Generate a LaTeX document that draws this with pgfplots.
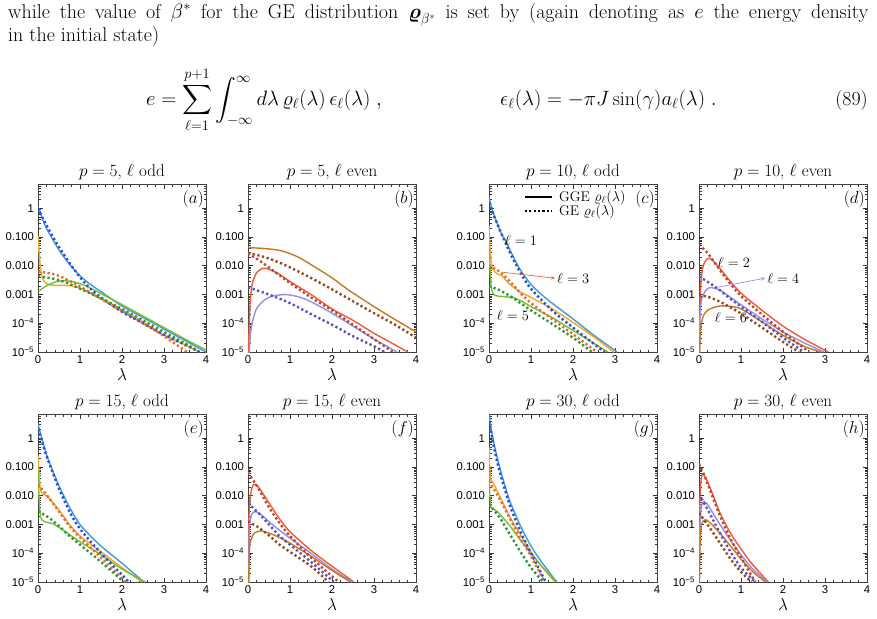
\documentclass[border=0pt]{standalone}
\usepackage{amsmath}
\usepackage{fontspec}
\usepackage{pgfplots}
\pgfplotsset{compat=1.18}

\newfontfamily\arial{Liberation Sans}
\newcommand\tickfont{\arial\fontsize{11.3}{12}\selectfont}
\newcommand\titlefont{\fontsize{17}{19}\selectfont}
\newcommand\tagfont{\fontsize{16}{18}\selectfont}
\newcommand\bodyfont{\fontsize{20}{23.3}\selectfont}

\definecolor{cBlue}{RGB}{62,155,213}
\definecolor{cBlueD}{RGB}{40,75,220}
\definecolor{cOrange}{RGB}{245,165,35}
\definecolor{cOrangeD}{RGB}{232,105,45}
\definecolor{cGreen}{RGB}{120,190,50}
\definecolor{cGreenD}{RGB}{45,150,55}
\definecolor{cBrown}{RGB}{200,120,30}
\definecolor{cBrownD}{RGB}{150,70,30}
\definecolor{cRed}{RGB}{240,90,50}
\definecolor{cRedD}{RGB}{190,65,50}
\definecolor{cPurple}{RGB}{150,140,230}
\definecolor{cPurpleD}{RGB}{85,80,200}

\tikzset{
  gge/.style={line width=1.4pt, smooth, tension=0.45},
  ge/.style={line width=2.4pt, dash pattern=on 2.2pt off 2.6pt, smooth, tension=0.45},
  ann/.style={font=\fontsize{15}{17}\selectfont, inner sep=0pt},
}

\pgfplotsset{
  chartpanel/.style={
    scale only axis, width=168pt, height=168pt,
    xmin=0, xmax=4, ymin=1e-5, ymax=7,
    xtick={0,1,2,3,4}, xticklabels={0,1,2,3,4},
    minor x tick num=4,
    ytick={1e-5,1e-4,1e-3,1e-2,1e-1,1},
    yticklabels={10\textsuperscript{−5},10\textsuperscript{−4},0.001,0.010,0.100,1},
    minor ytick={2e-5,3e-5,4e-5,5e-5,6e-5,7e-5,8e-5,9e-5,
                 2e-4,3e-4,4e-4,5e-4,6e-4,7e-4,8e-4,9e-4,
                 2e-3,3e-3,4e-3,5e-3,6e-3,7e-3,8e-3,9e-3,
                 2e-2,3e-2,4e-2,5e-2,6e-2,7e-2,8e-2,9e-2,
                 0.2,0.3,0.4,0.5,0.6,0.7,0.8,0.9,2,3,4,5,6,7},
    tick align=inside,
    major tick length=4.5pt, minor tick length=2.5pt,
    every tick/.style={black!80, line width=0.6pt},
    axis line style={black!75, line width=0.9pt},
    tick label style={font=\tickfont},
    yticklabel style={xshift=-0.5pt},
    xlabel={$\lambda$},
    xlabel style={font=\fontsize{16.5}{18}\selectfont, at={(axis description cs:0.5,0)}, anchor=base, yshift=-28pt},
    title style={font=\titlefont, yshift=-5pt},
  },
  paneltag/.style={
    after end axis/.append code={
      \node[anchor=north east, font=\tagfont, inner sep=0pt, xshift=-2pt, yshift=-6pt]
        at (rel axis cs:1,1) {$(#1)$};}
  },
}

\begin{document}
\begin{tikzpicture}[x=1pt,y=1pt]
\path[use as bounding box] (0,0) rectangle (877,-618);

% running text and equation (89)
\node[anchor=base west, inner sep=0pt] at (8,-18.5) {\parbox[t]{860pt}{\bodyfont
  while the value of $\beta^*$ for the GE distribution $\boldsymbol{\varrho}_{\beta^*}$ is set by (again denoting as $e$ the energy density\linebreak
  in the initial state)}};
\node[anchor=base west, inner sep=0pt] at (146,-105.5) {\bodyfont
  $\displaystyle e=\sum_{\ell=1}^{p+1}\int_{-\infty}^{\infty}d\lambda\,\varrho_\ell(\lambda)\,\epsilon_\ell(\lambda)\;,$};
\node[anchor=base west, inner sep=0pt] at (500,-105.5) {\bodyfont
  $\displaystyle \epsilon_\ell(\lambda)=-\pi J\sin(\gamma)a_\ell(\lambda)\;.$};
\node[anchor=base east, inner sep=0pt] at (868,-105.5) {\bodyfont (89)};

% ---------------- p = 5, odd ----------------
\begin{semilogyaxis}[chartpanel, paneltag=a, at={(38pt,-352pt)}, anchor=south west, title={$p=5$, $\ell$ odd}]
\addplot[gge, cBlue] coordinates {(0,1.122)(0.1,0.4467)(0.2,0.1995)(0.3,0.1122)(0.5,0.03548)(0.75,0.01122)(1,4.467e-3)(1.25,2.239e-3)(1.5,1.259e-3)(2,3.981e-4)(2.5,1.585e-4)(3,6.310e-5)(3.5,2.512e-5)(4,1e-5)};
\addplot[gge, cOrange] coordinates {(0,0.1122)(0.03,0.02512)(0.06,7.943e-3)(0.1,3.981e-3)(0.15,2.818e-3)(0.25,2.239e-3)(0.4,2.089e-3)(0.6,2.089e-3)(0.8,1.995e-3)(1,1.660e-3)(1.25,1.122e-3)(1.5,7.079e-4)(2,2.512e-4)(2.5,1e-4)(3,3.981e-5)(3.5,1.778e-5)(3.85,1e-5)};
\addplot[gge, cGreen] coordinates {(0,1.259e-3)(0.2,1.995e-3)(0.4,2.692e-3)(0.6,3.020e-3)(0.8,2.818e-3)(1,2.399e-3)(1.25,1.660e-3)(1.5,1.072e-3)(2,4.467e-4)(2.5,1.778e-4)(3,7.079e-5)(3.5,2.818e-5)(4,1.175e-5)};
\addplot[ge, cBlueD] coordinates {(0,1)(0.15,0.3548)(0.3,0.1413)(0.5,0.04467)(0.75,0.01259)(1,3.981e-3)(1.25,1.585e-3)(1.5,7.943e-4)(2,2.512e-4)(2.5,1e-4)(3,3.981e-5)(3.5,1.778e-5)(3.85,1e-5)};
\addplot[ge, cOrangeD] coordinates {(0,6.310e-3)(0.25,5.623e-3)(0.5,4.467e-3)(0.75,3.020e-3)(1,1.905e-3)(1.5,7.079e-4)(2,2.818e-4)(2.5,1.047e-4)(3,3.548e-5)(3.55,1e-5)};
\addplot[ge, cGreenD] coordinates {(0,4.365e-3)(0.4,3.467e-3)(0.7,2.512e-3)(1,1.585e-3)(1.5,7.413e-4)(2,3.162e-4)(2.5,1.259e-4)(3,5.012e-5)(3.5,1.995e-5)(3.8,1.122e-5)};
\end{semilogyaxis}

% ---------------- p = 5, even ----------------
\begin{semilogyaxis}[chartpanel, paneltag=b, at={(248pt,-352pt)}, anchor=south west, title={$p=5$, $\ell$ even}]
\addplot[gge, cBrown] coordinates {(0,4.266e-2)(0.4,3.981e-2)(0.8,3.311e-2)(1.2,1.995e-2)(1.6,8.913e-3)(2,3.802e-3)(2.4,1.413e-3)(3,3.802e-4)(3.5,1.349e-4)(4,5.012e-5)};
\addplot[gge, cRed] coordinates {(0.002,1e-6)(0.02,3.162e-5)(0.05,5.012e-4)(0.1,2.239e-3)(0.2,5.623e-3)(0.35,8.128e-3)(0.5,7.586e-3)(0.75,5.012e-3)(1,2.818e-3)(1.5,1e-3)(2,3.162e-4)(2.5,1.259e-4)(3,4.467e-5)(3.5,1.778e-5)(3.8,1e-5)};
\addplot[gge, cPurple] coordinates {(0.003,1e-6)(0.05,3.162e-5)(0.1,1e-4)(0.2,3.162e-4)(0.4,6.607e-4)(0.6,8.913e-4)(0.9,1e-3)(1.2,8.318e-4)(1.5,5.623e-4)(2,2.239e-4)(2.5,7.943e-5)(3,2.818e-5)(3.55,1e-5)};
\addplot[ge, cBrownD] coordinates {(0,2.818e-2)(0.4,1.995e-2)(0.8,1.202e-2)(1.2,6.310e-3)(1.6,3.162e-3)(2,1.514e-3)(2.4,7.079e-4)(3,2.239e-4)(3.5,8.913e-5)(4,3.162e-5)};
\addplot[ge, cRedD] coordinates {(0,2.692e-2)(0.2,1.778e-2)(0.4,1.122e-2)(0.6,6.761e-3)(0.8,4.169e-3)(1,2.512e-3)(1.5,7.943e-4)(2,2.818e-4)(2.5,8.913e-5)(3,2.818e-5)(3.45,1e-5)};
\addplot[ge, cPurpleD] coordinates {(0,1.778e-3)(0.5,1e-3)(1,5.012e-4)(1.5,2.089e-4)(2,8.913e-5)(2.5,3.548e-5)(3,1.585e-5)(3.25,1e-5)};
\end{semilogyaxis}

% ---------------- p = 10, odd ----------------
\begin{semilogyaxis}[chartpanel, paneltag=c, at={(489pt,-352pt)}, anchor=south west, title={$p=10$, $\ell$ odd},
  legend style={at={(rel axis cs:0.205,0.881)}, anchor=west, draw=none, fill=none,
    font=\fontsize{14}{15}\selectfont, row sep=0pt, column sep=5pt, inner sep=0pt,
    nodes={inner sep=1pt}},
  legend cell align=left,
  legend image code/.code={\draw[#1] (0pt,0pt) -- (27pt,0pt);}]
\addlegendimage{black, line width=1.8pt}
\addlegendentry{GGE $\varrho_\ell(\lambda)$}
\addlegendimage{black, line width=2.4pt, dash pattern=on 2.2pt off 2.2pt}
\addlegendentry{GE $\varrho_\ell(\lambda)$}
\addplot[gge, cBlue] coordinates {(0,2.399)(0.05,1.259)(0.1,0.7079)(0.2,0.2818)(0.3,0.1259)(0.4,0.07079)(0.5,0.03548)(0.6,0.01778)(0.75,7.079e-3)(1,2.239e-3)(1.25,1e-3)(1.5,5.012e-4)(2,1.413e-4)(2.5,3.802e-5)(3.05,1e-5)};
\addplot[gge, cOrange] coordinates {(0,0.2512)(0.02,0.05012)(0.05,0.01413)(0.1,7.079e-3)(0.2,5.248e-3)(0.3,4.467e-3)(0.4,3.162e-3)(0.5,2.239e-3)(0.75,1.202e-3)(1,7.943e-4)(1.5,3.162e-4)(2,1.072e-4)(2.5,3.311e-5)(2.97,1e-5)};
\addplot[gge, cGreen] coordinates {(0,5.623e-2)(0.02,1e-2)(0.05,1.995e-3)(0.1,1.047e-3)(0.2,8.913e-4)(0.4,8.318e-4)(0.6,7.586e-4)(0.8,5.623e-4)(1,3.802e-4)(1.5,1.585e-4)(2,5.623e-5)(2.5,1.995e-5)(2.82,1e-5)};
\addplot[ge, cBlueD] coordinates {(0,1.585)(0.1,0.631)(0.2,0.2818)(0.3,0.1259)(0.5,0.02818)(0.75,5.623e-3)(1,1.585e-3)(1.5,2.818e-4)(2,7.079e-5)(2.5,1.905e-5)(2.75,1e-5)};
\addplot[ge, cOrangeD] coordinates {(0,1.047e-2)(0.25,6.310e-3)(0.5,2.818e-3)(0.75,1.122e-3)(1,5.012e-4)(1.5,1.413e-4)(2,4.169e-5)(2.57,1e-5)};
\addplot[ge, cGreenD] coordinates {(0,1.995e-3)(0.25,1.413e-3)(0.5,8.913e-4)(0.75,5.012e-4)(1,2.818e-4)(1.5,9.550e-5)(2,3.162e-5)(2.45,1e-5)};
\node[ann] at (axis cs:0.76,0.078) {$\ell=1$};
\draw[cOrangeD, line width=0.7pt, ->, >=stealth] (axis cs:0.31,6e-3) -- (axis cs:1.57,3.7e-3);
\node[ann, anchor=west] at (axis cs:1.62,3.7e-3) {$\ell=3$};
\node[ann] at (axis cs:0.57,1.9e-4) {$\ell=5$};
\end{semilogyaxis}

% ---------------- p = 10, even ----------------
\begin{semilogyaxis}[chartpanel, paneltag=d, at={(699pt,-352pt)}, anchor=south west, title={$p=10$, $\ell$ even}]
\addplot[gge, cRed] coordinates {(0,1e-7)(0.02,3.162e-4)(0.05,3.162e-3)(0.1,1e-2)(0.2,1.778e-2)(0.3,1.660e-2)(0.5,7.943e-3)(0.75,2.818e-3)(1,1.122e-3)(1.5,2.818e-4)(2,7.943e-5)(2.5,2.818e-5)(3.08,1e-5)};
\addplot[gge, cPurple] coordinates {(0,1e-7)(0.02,1e-4)(0.05,5.012e-4)(0.1,1e-3)(0.2,1.585e-3)(0.3,1.738e-3)(0.5,1.413e-3)(0.75,7.943e-4)(1,4.365e-4)(1.5,1.413e-4)(2,5.012e-5)(2.5,2.089e-5)(2.98,1e-5)};
\addplot[gge, cBrown] coordinates {(0,1e-7)(0.02,2.512e-5)(0.05,7.943e-5)(0.1,1.778e-4)(0.2,2.818e-4)(0.35,3.548e-4)(0.5,3.981e-4)(0.7,3.981e-4)(1,3.162e-4)(1.5,1.122e-4)(2,3.802e-5)(2.5,1.585e-5)(2.9,1e-5)};
\addplot[ge, cRedD] coordinates {(0,5.495e-2)(0.2,2.818e-2)(0.4,1.122e-2)(0.6,4.467e-3)(0.8,1.905e-3)(1,8.913e-4)(1.5,1.995e-4)(2,5.012e-5)(2.62,1e-5)};
\addplot[ge, cPurpleD] coordinates {(0,4.266e-3)(0.25,2.512e-3)(0.5,1.413e-3)(0.75,7.079e-4)(1,3.802e-4)(1.5,1.122e-4)(2,3.162e-5)(2.5,1e-5)};
\addplot[ge, cBrownD] coordinates {(0,9.772e-4)(0.25,7.943e-4)(0.5,5.623e-4)(0.75,3.548e-4)(1,2.188e-4)(1.5,7.079e-5)(2,2.239e-5)(2.38,1e-5)};
\node[ann] at (axis cs:0.83,0.0133) {$\ell=2$};
\draw[cPurple, line width=0.7pt, ->, >=stealth] (axis cs:0.45,1.8e-3) -- (axis cs:1.57,3.7e-3);
\node[ann, anchor=west] at (axis cs:1.62,3.7e-3) {$\ell=4$};
\node[ann] at (axis cs:0.76,1.6e-4) {$\ell=6$};
\end{semilogyaxis}

% ---------------- p = 15, odd ----------------
\begin{semilogyaxis}[chartpanel, paneltag=e, at={(38pt,-582pt)}, anchor=south west, title={$p=15$, $\ell$ odd}]
\addplot[gge, cBlue] coordinates {(0,3.162)(0.1,0.8913)(0.2,0.2818)(0.3,0.1122)(0.5,0.02239)(0.75,3.981e-3)(1,1e-3)(1.25,3.981e-4)(1.5,1.778e-4)(2,4.467e-5)(2.52,1e-5)};
\addplot[gge, cOrange] coordinates {(0,0.2512)(0.03,0.03981)(0.06,0.01585)(0.1,0.01202)(0.2,1e-2)(0.3,7.079e-3)(0.5,3.162e-3)(0.75,1e-3)(1,3.981e-4)(1.5,1.122e-4)(2,3.162e-5)(2.48,1e-5)};
\addplot[gge, cGreen] coordinates {(0,7.413e-2)(0.03,6.310e-3)(0.06,1.995e-3)(0.1,1.413e-3)(0.2,1.202e-3)(0.35,1.072e-3)(0.5,7.943e-4)(0.75,4.467e-4)(1,2.512e-4)(1.5,8.913e-5)(2,2.818e-5)(2.56,1e-5)};
\addplot[ge, cBlueD] coordinates {(0,2.138)(0.1,0.7079)(0.2,0.2512)(0.3,0.1)(0.5,0.01778)(0.75,2.818e-3)(1,7.079e-4)(1.5,1e-4)(2,1.778e-5)(2.16,1e-5)};
\addplot[ge, cOrangeD] coordinates {(0,2.512e-2)(0.25,8.913e-3)(0.5,2.818e-3)(0.75,8.913e-4)(1,3.548e-4)(1.5,7.079e-5)(2.08,1e-5)};
\addplot[ge, cGreenD] coordinates {(0,2.884e-3)(0.25,1.778e-3)(0.5,8.913e-4)(0.75,3.981e-4)(1,1.995e-4)(1.5,5.012e-5)(2.04,1e-5)};
\end{semilogyaxis}

% ---------------- p = 15, even ----------------
\begin{semilogyaxis}[chartpanel, paneltag=f, at={(248pt,-582pt)}, anchor=south west, title={$p=15$, $\ell$ even}]
\addplot[gge, cRed] coordinates {(0,1e-7)(0.02,1e-3)(0.05,7.943e-3)(0.1,1.995e-2)(0.15,2.512e-2)(0.25,1.995e-2)(0.5,5.623e-3)(0.75,1.585e-3)(1,5.623e-4)(1.5,1.259e-4)(2,3.548e-5)(2.52,1e-5)};
\addplot[gge, cPurple] coordinates {(0,1e-7)(0.03,5.012e-4)(0.07,1.778e-3)(0.12,2.630e-3)(0.2,2.754e-3)(0.35,1.995e-3)(0.5,1.259e-3)(0.75,6.310e-4)(1,3.388e-4)(1.5,1e-4)(2,2.818e-5)(2.48,1e-5)};
\addplot[gge, cBrown] coordinates {(0,1e-7)(0.03,1e-4)(0.08,3.162e-4)(0.15,5.012e-4)(0.3,6.026e-4)(0.5,5.012e-4)(0.75,3.548e-4)(1,2.239e-4)(1.5,7.943e-5)(2,2.512e-5)(2.44,1e-5)};
\addplot[ge, cRedD] coordinates {(0,6.457e-2)(0.25,1.778e-2)(0.5,3.981e-3)(0.75,1.122e-3)(1,3.981e-4)(1.5,7.079e-5)(2.16,1e-5)};
\addplot[ge, cPurpleD] coordinates {(0,5.623e-3)(0.25,2.512e-3)(0.5,1e-3)(0.75,3.981e-4)(1,1.995e-4)(1.5,5.012e-5)(2.04,1e-5)};
\addplot[ge, cBrownD] coordinates {(0,1.288e-3)(0.25,7.943e-4)(0.5,4.169e-4)(0.75,1.995e-4)(1,1.122e-4)(1.5,3.548e-5)(1.92,1e-5)};
\end{semilogyaxis}

% ---------------- p = 30, odd ----------------
\begin{semilogyaxis}[chartpanel, paneltag=g, at={(489pt,-582pt)}, anchor=south west, title={$p=30$, $\ell$ odd}]
\addplot[gge, cBlue] coordinates {(0,6.310)(0.05,2.239)(0.1,0.8913)(0.2,0.1995)(0.3,0.05623)(0.4,0.01778)(0.5,6.310e-3)(0.75,8.913e-4)(1,1.778e-4)(1.25,5.012e-5)(1.61,1e-5)};
\addplot[gge, cOrange] coordinates {(0,0.5012)(0.02,0.07943)(0.05,0.03548)(0.1,0.02818)(0.2,0.01413)(0.3,7.079e-3)(0.5,1.778e-3)(0.75,4.467e-4)(1,1.122e-4)(1.25,3.548e-5)(1.57,1e-5)};
\addplot[gge, cGreen] coordinates {(0,0.1259)(0.02,1e-2)(0.05,3.981e-3)(0.1,3.388e-3)(0.2,2.818e-3)(0.35,1.585e-3)(0.5,8.913e-4)(0.75,2.818e-4)(1,1e-4)(1.25,3.548e-5)(1.61,1e-5)};
\addplot[ge, cBlueD] coordinates {(0,3.981)(0.1,0.631)(0.2,0.1413)(0.3,0.03981)(0.5,4.467e-3)(0.75,5.623e-4)(1,1e-4)(1.35,1e-5)};
\addplot[ge, cOrangeD] coordinates {(0,3.236e-2)(0.25,7.943e-3)(0.5,1.585e-3)(0.75,3.162e-4)(1,7.943e-5)(1.32,1e-5)};
\addplot[ge, cGreenD] coordinates {(0,5.012e-3)(0.25,1.778e-3)(0.5,4.467e-4)(0.75,1.122e-4)(1,3.162e-5)(1.29,1e-5)};
\end{semilogyaxis}

% ---------------- p = 30, even ----------------
\begin{semilogyaxis}[chartpanel, paneltag=h, at={(699pt,-582pt)}, anchor=south west, title={$p=30$, $\ell$ even}]
\addplot[gge, cRed] coordinates {(0,1e-7)(0.01,1e-3)(0.03,1.585e-2)(0.06,4.467e-2)(0.09,5.623e-2)(0.15,4.467e-2)(0.3,1.413e-2)(0.5,2.512e-3)(0.75,5.012e-4)(1,1.413e-4)(1.25,4.467e-5)(1.65,1e-5)};
\addplot[gge, cPurple] coordinates {(0,1e-7)(0.01,1.585e-4)(0.04,2.512e-3)(0.08,5.623e-3)(0.12,6.310e-3)(0.2,5.012e-3)(0.35,2.239e-3)(0.5,1e-3)(0.75,2.818e-4)(1,8.913e-5)(1.25,3.162e-5)(1.62,1e-5)};
\addplot[gge, cBrown] coordinates {(0,1e-7)(0.02,1e-4)(0.05,7.943e-4)(0.1,1.318e-3)(0.15,1.479e-3)(0.25,1.202e-3)(0.5,5.012e-4)(0.75,1.778e-4)(1,6.310e-5)(1.25,2.512e-5)(1.58,1e-5)};
\addplot[ge, cRedD] coordinates {(0,0.1259)(0.1,6.310e-2)(0.25,1.778e-2)(0.5,1.995e-3)(0.75,3.162e-4)(1,7.079e-5)(1.34,1e-5)};
\addplot[ge, cPurpleD] coordinates {(0,1.122e-2)(0.1,6.310e-3)(0.25,2.512e-3)(0.5,5.012e-4)(0.75,1.122e-4)(1,3.162e-5)(1.34,1e-5)};
\addplot[ge, cBrownD] coordinates {(0,2.512e-3)(0.1,1.585e-3)(0.25,7.943e-4)(0.5,2.239e-4)(0.75,6.310e-5)(1,2.239e-5)(1.25,1e-5)};
\end{semilogyaxis}

\end{tikzpicture}
\end{document}
